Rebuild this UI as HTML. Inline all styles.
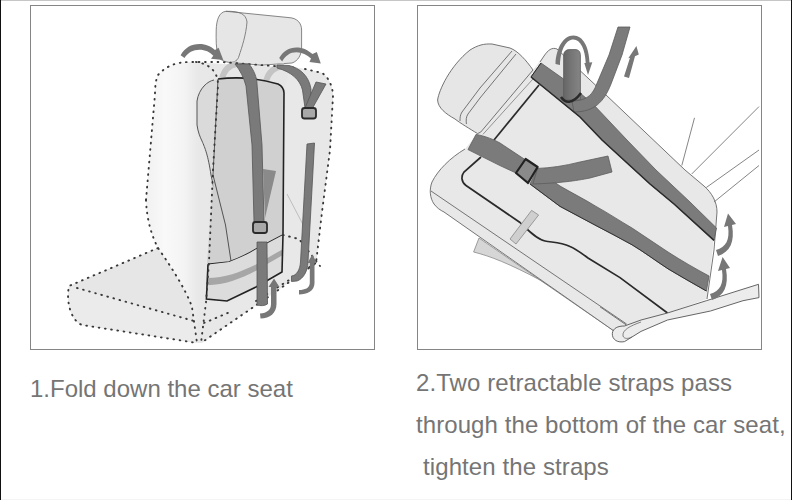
<!DOCTYPE html>
<html><head><meta charset="utf-8">
<style>
html,body{margin:0;padding:0;background:#fff;width:792px;height:500px;overflow:hidden;position:relative;font-family:"Liberation Sans",sans-serif;}
.edgeL{position:absolute;left:0;top:0;width:1px;height:500px;background:#111;}
.edgeR{position:absolute;right:0;top:0;width:1px;height:500px;background:#111;}
.edgeT{position:absolute;left:0;top:0;width:792px;height:1px;background:#c6c6c6;}
.edgeB{position:absolute;left:0;top:499px;width:792px;height:1px;background:#f4f4f4;}
.panel{position:absolute;top:5px;width:343px;height:343px;border:1px solid #858585;box-sizing:content-box;}
.t{position:absolute;font-size:24px;color:#757575;white-space:nowrap;line-height:1;}
svg{position:absolute;left:0;top:0;}
</style></head><body>
<div class="edgeT"></div>
<div class="edgeB"></div>
<div class="panel" style="left:30px"></div>
<div class="panel" style="left:417px"></div>
<svg width="792" height="500" viewBox="0 0 792 500">
<defs>
<linearGradient id="cov" x1="0" y1="0" x2="1" y2="0">
<stop offset="0" stop-color="#f1f1f1"/><stop offset="0.1" stop-color="#f9f9f9"/><stop offset="0.2" stop-color="#f4f4f4"/><stop offset="0.28" stop-color="#e8e8e8"/><stop offset="1" stop-color="#e4e4e4"/>
</linearGradient>
<linearGradient id="hr" x1="0" y1="0" x2="1" y2="0">
<stop offset="0" stop-color="#e4e4e4"/><stop offset="1" stop-color="#ececec"/>
</linearGradient>
</defs>
<!-- seat cushion -->
<path d="M69 286 L158 248 C172 268 186 290 192 307 L197 343 L82 325 C70 320 66 300 69 286 Z" fill="#e6e6e6"/>
<path d="M77 288 L194 321 L197 343 L82 325 C70 320 66 300 69 286 Z" fill="#ebebeb"/>
<!-- back cover -->
<path d="M158 75 C166 66 176 62 190 62 L298 68 L322 73 C329 77 333 88 333 96 L330 150 L322 212 L316 263 L202 343 L197 343 L192 307 C186 290 172 268 158 248 C152 236 147 222 146 200 L155 94 C155 86 156 79 158 75 Z" fill="url(#cov)"/>
<path d="M284 90 L290 66 L322 73 C329 77 333 88 333 96 L330 150 L322 212 L316 263 L284 270 Z" fill="#e8e8e8"/>
<path d="M287 194 L309 236" stroke="#aaa" stroke-width="0.7" fill="none"/>
<path d="M205 298 L231 302 L282 270 L316 263 L274 293 L201 343 Z" fill="#e8e8e8"/>
<!-- headrest -->
<path d="M226 11.3 L289 17.6 C297 18 301.6 23 301.6 30 L301.6 47 C301.6 55 298 61 292 63 L261 65.2 L230 62.4 C225 62 219 60 218 55 C216 48 216 40 216.2 30 C216.5 20 219 12 226 11.3 Z" fill="#e6e6e6" stroke="#6a6a6a" stroke-width="0.8"/>
<path d="M226 11.3 C240 11 246 14 247 22 C246 35 242 47 239 56 C238 60 235 62.4 230 62.4" fill="none" stroke="#6a6a6a" stroke-width="0.8"/>
<!-- light loops -->
<path d="M222 79 C224 70 229 65 237 64" fill="none" stroke="#c4c4c4" stroke-width="6"/>
<path d="M266 82 C268 72 274 67 284 66" fill="none" stroke="#c4c4c4" stroke-width="6"/>
<!-- cushion side panel -->
<path d="M214 80 C208 81 199 88 197 101 L197 125 C198 132 200 137 202 141 C205 148 208 155 211 175 L222 225 L228 261 L207 265 L218 79 Z" fill="#dadada"/>
<path d="M214 80 C208 81 199 88 197 101 L197 125 C198 132 200 137 202 141 C205 148 208 155 211 175 L222 225 L228 261" fill="none" stroke="#555" stroke-width="1"/>
<!-- upper cushion -->
<path d="M218 79 C235 77 258 78 278 84 C282 86 284 89 284 93 L283 235 C270 245 250 255 230 261 L207 265 L213 190 Z" fill="#d0d0d0"/>
<path d="M218 79 C235 77 258 78 278 84 C282 86 284 89 284 93 L283 235 L256 249.2 C250 253 240 258 229 262 L208 264.4" fill="none" stroke="#222" stroke-width="1.6"/>
<path d="M218 79 L213 175 L225.5 225 L231 261" fill="none" stroke="#444" stroke-width="0.9"/>
<!-- lower box -->
<path d="M208 264.4 L229 262 C240 258 250 253 256 249.2 L283 235 L282 272 L256 287 L227 301 L206.4 299 Z" fill="#dcdcdc"/>
<path d="M207 278 C225 278 240 272 256 264.4 C266 259 274 254 282 249.7 L282 255.6 C274 260 266 265 256 270.8 C240 279 225 285 207 285.2 Z" fill="#a6a6a6"/>
<path d="M208 264.4 L206.4 299 L227 301 L256 287 L282 272 L283 235" fill="none" stroke="#222" stroke-width="1.6"/>
<!-- dotted outlines -->
<g fill="none" stroke="#383838" stroke-width="1.9" stroke-dasharray="0.7 5.6" stroke-linecap="round">
<path d="M158 248 L69 286 C66 300 70 320 82 325 L197 343"/>
<path d="M77 288 L194 321"/>
<path d="M146 200 L155 94 C155 86 156 79 158 75 C166 66 176 62 190 62 L222 62 L299 68"/>
<path d="M146 200 C147 222 152 236 158 248 C172 268 186 290 192 307 L197 343"/>
<path d="M305 69 L322 73 C329 77 333 88 333 96 L330 150 L322 212 L316 263 L274 293 L201 343"/>
<path d="M283 235 L299 239 L320 266"/>
<path d="M204 323 L230 312 M256 301 L316 263"/>
<path d="M196 62 C210 64 218 72 218 85 L213 170 L209 262 L206 302 L201 343"/>
</g>
<!-- straps -->
<g fill="#7a7a7a" stroke="#555" stroke-width="0.8">
<path d="M235 64 L249 64 C254 70 257 78 257 84 L262 145 L264 222 L254 222 L252 145 L246 86 C244 78 240 70 235 64 Z"/>
<path d="M263 169 L276 171 L265 218 Z" fill="#8a8a8a" stroke="none"/>
<path d="M277 65 L289 65.5 C300 68 309 76 311 89 L311 108 L305 108 L302.5 90 C300 80 292 72 277 68 Z"/>
<path d="M316 82 L326 84 L312 109 L305 108 Z"/>
<path d="M307 144 L314.5 143 L308 262 C307.5 272 303 279 297 281 L291.5 281.5 L291.5 276 C296.5 275.5 300 270 300.5 262 Z"/>
<path d="M257 242 L267 242 L267.5 304 C265 306 260 306 257 305 Z"/>
</g>
<!-- buckles -->
<rect x="253" y="222" width="14" height="11" rx="2.5" fill="#a8a8a8" stroke="#2a2a2a" stroke-width="1.8"/>
<rect x="302" y="108" width="14" height="10.5" rx="2.5" fill="#a8a8a8" stroke="#2a2a2a" stroke-width="1.8"/>
<!-- arrows -->
<g fill="#777">
<path d="M180.6 55.3 C185 48 191 44.1 199.5 44.1 C206 44.1 211 46.5 215 50 L218.6 47.8 L223.3 60 L211 58.8 L213.3 55.7 C210 52 205 49.7 199.5 49.7 C193 49.7 188 52.5 184.5 58 Z"/>
<path d="M279.2 58 C283 51 289 47.4 296.4 47.4 C303 47.4 308 50 312.5 54 L316.8 52 L320.8 63.4 L309.5 62 L311 58.5 C307 54.5 302 52.2 296.4 52.2 C290 52.2 285.5 55.5 282.2 61.4 Z"/>
<path d="M260 313.5 C267 313 271 310 271 304 L271 287 L268.5 287 L274 278.5 L279.5 287 L276.5 287 L276.5 304 C276.5 313 270 318.5 260.5 318.5 Z"/>
<path d="M299 290 C305 290 309.5 288 309.8 283 L309.8 263 L307.5 263 L312.3 254.4 L317 263 L314.5 263 L314.5 283 C314.5 291 307 294.5 299 294.5 Z"/>
</g>
<!-- ===== panel 2 ===== -->
<defs><linearGradient id="loopg" x1="0" y1="0" x2="1" y2="0"><stop offset="0" stop-color="#666"/><stop offset="0.4" stop-color="#747474"/><stop offset="1" stop-color="#858585"/></linearGradient></defs>
<!-- base sliver -->
<path d="M479 238 L473.6 252 C490 256 510 264 540 280 L600 318 L614 331 Z" fill="#d6d6d6" stroke="#888" stroke-width="0.8"/>
<!-- main seat/cover body -->
<path d="M437.6 100 C439 90 450 66 470 50 C478 45 484 43.6 492 44 L510 48 C518 51 526 60 533 70 L544 56 C548 50 552 47 557 49 L605 94 L685 170 L704 186 C712 193 717 202 717 212 L707 299 L667.5 313 L641 320 L624.5 326 L614 331 L444 212 C440 210 437 208 434 204 C430 198 429 190 432 182 C438 170 450 158 465 149 L477.6 133.6 C470 129 460 123 455 119 C446 114 438 108 437.6 100 Z" fill="#e8e8e8"/>
<!-- outlines -->
<g fill="none" stroke="#666" stroke-width="0.9">
<path d="M544 56 C548 50 552 47 557 49 L605 94 L685 170 L704 186 C712 193 717 202 717 212 L714 250 L707 299"/>
<path d="M544 56 L540 62"/>
<path d="M533.5 78.4 L483 134.3" stroke="#888"/>
<path d="M465 149 C450 158 438 170 432 182 C429 190 430 198 434 204 C437 208 440 210 444 212 L614 331"/>
<path d="M431 191 L626.6 324"/>
<path d="M600 306.8 L626.6 325.2"/>
</g>
<!-- headrest -->
<path d="M437.6 100 C439 90 450 66 470 50 C478 45 484 43.6 492 44 L510 48 C518 51 526 60 533 70 L480.8 132 L477.6 133.6 C470 129 460 123 455 119 C446 114 438 108 437.6 100 Z" fill="#e6e6e6" stroke="#666" stroke-width="0.9"/>
<path d="M512 51 L480 88 L462 112 C460 115 460 118 460 121 M516 54 L480 98 L468 114 C466 117 466 120 466.4 124" fill="none" stroke="#666" stroke-width="0.9"/>
<!-- dark frame line -->
<path d="M539 85 L494 140" fill="none" stroke="#2a2a2a" stroke-width="1.7"/>
<path d="M481 157 L464 172 C461 176 461 182 466 185.5 L520 222.5 C528 230 536 239 545 241 C552 242.5 560 242 570 246.5 C576 249 580 252 588 258 L620 277.6 L667.5 313" fill="none" stroke="#2a2a2a" stroke-width="1.7"/>
<!-- rail -->
<path d="M758.5 284.3 L759 297.6 L743 300.7 L710.5 311 L667.5 320 L641 331.4 L624.5 341.6 C618 343 612 340 612.3 333.4 C613 328 618 326 624.5 326 L641 320 L667.5 313 L706.4 300.7 Z" fill="#ececec" stroke="#555" stroke-width="0.9" stroke-linejoin="round"/>
<path d="M641 322 C630 326 622 330 623 336 C624 339 628 339 632 337" fill="none" stroke="#666" stroke-width="0.8"/>
<!-- rods -->
<g stroke="#777" stroke-width="0.9" fill="none">
<path d="M694.5 117.8 L681.8 165.5"/><path d="M759 106.6 L691.7 174"/><path d="M759 150 L706.3 187.5"/><path d="M759 165.5 L714 202"/>
</g>
<!-- straps -->
<g fill="#7b7b7b" stroke="#5c5c5c" stroke-width="0.8">
<!-- upper long strap -->
<path d="M541 63 L563.6 79 L593 104 L627 140 L656 170 L690 202 L716.5 228 L714 240.4 L674 204 L650 184 L602 140 L580 117 L531 77 Z"/>
<!-- left strap -->
<path d="M476 134.4 C485 136 494 139.6 500 143 L525.6 160 L516 173 L500 165.6 L468 149.6 Z"/>
<!-- lower diagonal strap -->
<path d="M530 184 L537.6 168.4 C545 174 552 181 560 186 C572 193 584 199 596 206.4 C608 213 620 221 632 228 C644 236 656 244 668 252 C682 261 696 269 709 276 L706.4 291 C694 284 680 276 668 268.8 C656 261 644 252 632 244.8 C620 238 608 232 596 225.6 C584 219 572 213 560 206.4 Z"/>
<!-- short strap -->
<path d="M537.6 168.4 C550 168 564 166 580 162 L608 156 L612 172 L590 178 C575 181 560 183 532.8 184 Z"/>
<!-- loop -->
<path d="M563.6 100 L563.6 56 C563.6 51.5 566 49.6 570 49.6 L575 49.6 C579 49.6 580.4 52 580.4 56 L580.4 100 Z" fill="url(#loopg)"/>
<!-- long rising strap -->
<path d="M572 101 C585 101 591 96 595 88 L609 55 L618 27 L630 27 L622 55 L611 84 C604 102 594 112 574 112 Z"/>
</g>
<g fill="none" stroke="#2a2a2a">
<path d="M531 77 L580 117 L602 140 L650 184 L674 204 L714 240.4" stroke-width="1.6"/>
<path d="M706.4 291 C694 284 680 276 668 268.8 C656 261 644 252 632 244.8 C620 238 608 232 596 225.6 C584 219 572 213 560 206.4 L530 184" stroke-width="0.9"/>
<path d="M561 97 C565 103 572 105 581 93" stroke-width="2.5"/>
<path d="M531 77 L541 63" stroke-width="1"/>
</g>
<!-- buckle -->
<path d="M516 173 L525.6 159 L537.6 167 L528 183 Z" fill="#8a8a8a" stroke="#222" stroke-width="2.2" stroke-linejoin="round"/>
<!-- tab -->
<path d="M510 239 L531.6 210.4 L538.6 215 L516 244 Z" fill="#cfcfcf" stroke="#888" stroke-width="0.8" stroke-linejoin="round"/>
<!-- arrows -->
<g fill="#777">
<path d="M555.5 64 C556 49 563 35.6 573.4 35.6 C583 35.6 589 47 589.5 62.5 L592.3 62.3 L588 75 L584.3 63 L585.7 63 C585.3 50 580.5 39.6 573.4 39.6 C566 39.6 560.5 50 560 65 Z"/>
<path d="M624 76.5 L630 57.8 L628.3 58.3 L636.4 46 L638.8 54.5 L635 56.3 L629 78 Z"/>
<path d="M716 250 C726 247 730 240 728 226 L724 227 L728 213.5 L736 224 L732 225 C735 242 730 252 718 256 Z"/>
<path d="M710 294 C720 291 724 284 722 270 L718 271 L722.6 257 L730 268 L726 269 C729 286 724 296 712 300 Z"/>
</g>

</svg>
<div class="t" style="left:30px;top:377px">1.Fold down the car seat</div>
<div class="t" style="left:416px;top:371px;letter-spacing:0.09px">2.Two retractable straps pass</div>
<div class="t" style="left:416px;top:413px;letter-spacing:0.08px">through the bottom of the car seat,</div>
<div class="t" style="left:423px;top:455px;letter-spacing:0.1px">tighten the straps</div>
<div class="edgeL"></div>
<div class="edgeR"></div>
</body></html>
